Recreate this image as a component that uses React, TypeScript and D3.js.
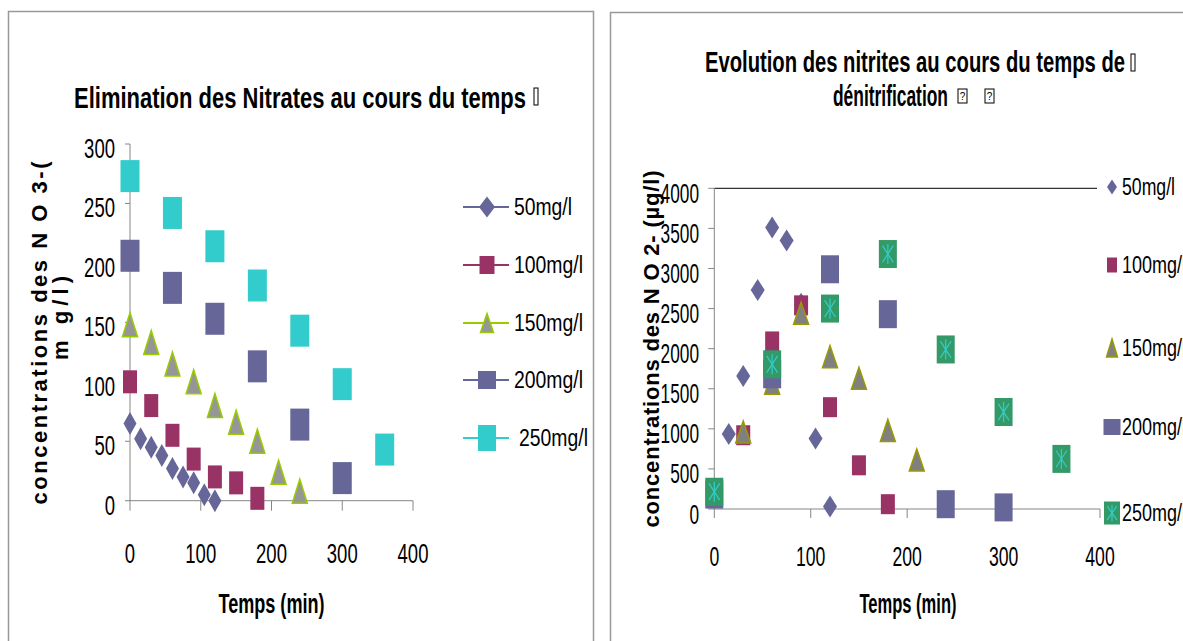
import React from "react";
import * as d3 from "d3";

// ---------- DATA ----------
const seriesNames = ["50mg/l", "100mg/l", "150mg/l", "200mg/l", "250mg/l"];

// Left chart: nitrates (mg/l) vs time (min)
const t50L = [0, 15, 30, 45, 60, 75, 90, 105, 120];
const v50L = [65, 52, 45, 38, 27, 20, 15, 5, 0];
const t100L = [0, 30, 60, 90, 120, 150, 180];
const v100L = [100, 80, 55, 35, 20, 15, 2];
const t150L = [0, 30, 60, 90, 120, 150, 180, 210, 240];
const v150L = [148, 133, 115, 100, 80, 66, 50, 24, 8];
const t200L = [0, 60, 120, 180, 240, 300];
const v200L = [206, 179, 153, 113, 64, 19];
const t250L = [0, 60, 120, 180, 240, 300, 360];
const v250L = [273, 242, 214, 181, 143, 98, 43];

// Right chart: nitrites (µg/l) vs time (min)
const t50R = [15, 30, 45, 60, 75, 90, 105, 120];
const v50R = [935, 1660, 2730, 3510, 3350, 2560, 880, 30];
const t100R = [30, 60, 90, 120, 150, 180];
const v100R = [920, 2090, 2540, 1270, 545, 60];
const t150R = [30, 60, 90, 120, 150, 180, 210];
const v150R = [960, 1570, 2440, 1900, 1630, 980, 610];
const t200R = [0, 60, 120, 180, 240, 300];
const v200R = [180, 1680, 2990, 2430, 60, 20];
const t250R = [0, 60, 120, 180, 240, 300, 360];
const v250R = [215, 1805, 2500, 3180, 1990, 1210, 625];

const xTicks = [0, 100, 200, 300, 400];
const yTicksL = [0, 50, 100, 150, 200, 250, 300];
const yTicksR = [0, 500, 1000, 1500, 2000, 2500, 3000, 3500, 4000];

const titleLeft = "Elimination des Nitrates au cours du temps";
const titleRight1 = "Evolution des nitrites au cours du temps de";
const titleRight2 = "dénitrification";
const yLabelL1 = "concentrations des N O 3-(";
const yLabelL2 = "m g/l)";
const yLabelR = "concentrations des N O 2- (µg/l)";
const xLabel = "Temps (min)";

// ---------- STYLE ----------
const FONT = "'Liberation Sans', Arial, sans-serif";
const AXIS = "#868686";
const C_PURPLE = "#666699";
const C_MAGENTA = "#993366";
const C_LIME = "#99CC00";
const C_GRAY = "#969696";
const C_CYAN = "#33CCCC";
const C_GREEN = "#339966";
const C_OLIVE = "#999900";

type TP = {
  x: number; y: number; w?: number; size?: number; anchor?: string;
  weight?: string | number; rotate?: boolean; children: React.ReactNode; fill?: string; adjust?: string;
};
function T({ x, y, w, size = 28, anchor = "start", weight = "normal", rotate, children, fill = "#000", adjust = "spacingAndGlyphs" }: TP) {
  return (
    <text
      x={x}
      y={y}
      fontFamily={FONT}
      fontSize={size}
      fontWeight={weight as any}
      textAnchor={anchor as any}
      fill={fill}
      textLength={w}
      lengthAdjust={w ? (adjust as any) : undefined}
      transform={rotate ? `rotate(-90 ${x} ${y})` : undefined}
    >
      {children}
    </text>
  );
}

const diamond = (cx: number, cy: number, w: number, h: number) =>
  `M${cx},${cy - h / 2}L${cx + w / 2},${cy}L${cx},${cy + h / 2}L${cx - w / 2},${cy}Z`;
const tri = (cx: number, cy: number, w: number, h: number) =>
  `M${cx},${cy - h / 2}L${cx + w / 2},${cy + h / 2}L${cx - w / 2},${cy + h / 2}Z`;

function Marker({ kind, cx, cy, w, h, tri: triStroke }: { kind: number; cx: number; cy: number; w: number; h: number; tri?: string }) {
  if (kind === 0) return <path d={diamond(cx, cy, w, h)} fill={C_PURPLE} />;
  if (kind === 1) return <rect x={cx - w / 2} y={cy - h / 2} width={w} height={h} fill={C_MAGENTA} />;
  if (kind === 2)
    return <path d={tri(cx, cy, w, h)} fill={triStroke === C_OLIVE ? "#808080" : C_GRAY} stroke={triStroke} strokeWidth={1.5} />;
  if (kind === 3) return <rect x={cx - w / 2} y={cy - h / 2} width={w} height={h} fill={C_PURPLE} />;
  return <rect x={cx - w / 2} y={cy - h / 2} width={w} height={h} fill={C_CYAN} />;
}

function StarBox({ cx, cy, w, h }: { cx: number; cy: number; w: number; h: number }) {
  const dx = w * 0.3, dy = h * 0.3;
  return (
    <g>
      <rect x={cx - w / 2} y={cy - h / 2} width={w} height={h} fill={C_GREEN} />
      <g stroke={C_CYAN} strokeWidth={1.2}>
        <line x1={cx - dx} y1={cy - dy} x2={cx + dx} y2={cy + dy} />
        <line x1={cx + dx} y1={cy - dy} x2={cx - dx} y2={cy + dy} />
        <line x1={cx} y1={cy - dy * 1.2} x2={cx} y2={cy + dy * 1.2} />
      </g>
    </g>
  );
}

export default function App() {
  // Left scales
  const xL = d3.scaleLinear().domain([0, 400]).range([130, 413]);
  const yL = d3.scaleLinear().domain([0, 300]).range([500.7, 144]);
  // Right scales
  const xR = d3.scaleLinear().domain([0, 400]).range([714.3, 1100]);
  const yR = d3.scaleLinear().domain([0, 4000]).range([509, 188.3]);

  const leftSeries = [
    { t: t50L, v: v50L, w: 13, h: 23 },
    { t: t100L, v: v100L, w: 14, h: 23 },
    { t: t150L, v: v150L, w: 15, h: 24 },
    { t: t200L, v: v200L, w: 19, h: 32 },
    { t: t250L, v: v250L, w: 19, h: 32 },
  ];
  const rightSeries = [
    { t: t50R, v: v50R, w: 14, h: 22 },
    { t: t100R, v: v100R, w: 14, h: 20 },
    { t: t150R, v: v150R, w: 15, h: 22 },
    { t: t200R, v: v200R, w: 18, h: 28 },
    { t: t250R, v: v250R, w: 18, h: 28 },
  ];

  const legendLY = [207, 265, 323, 380, 438];
  const legendLColors = [C_PURPLE, C_MAGENTA, C_LIME, C_PURPLE, C_CYAN];
  const legendLSizes = [
    [16, 21], [15, 18], [13, 19], [18, 18], [18, 26],
  ];
  const legendRY = [187, 265, 348, 427, 513];
  const legendRSizes = [
    [10, 15], [10, 15], [11, 18], [17, 16], [16, 23],
  ];

  const digitW = 10.3;

  return (
    <svg
      width={1183}
      height={641}
      style={{ position: "absolute", left: 0, top: 0, background: "#fff" }}
    >
      <rect x={0} y={0} width={1183} height={641} fill="#fff" />
      {/* Panel frames */}
      <rect x={8.5} y={11.5} width={585} height={700} fill="none" stroke="#999" strokeWidth={1.5} />
      <rect x={610.5} y={12.5} width={700} height={700} fill="none" stroke="#999" strokeWidth={1.5} />

      {/* ================= LEFT CHART ================= */}
      <T x={300} y={108} w={452} size={30} anchor="middle" weight="bold">{titleLeft}</T>
      <rect x={534} y={88} width={4} height={17} fill="none" stroke="#000" strokeWidth={1} />

      {/* axes */}
      <line x1={xL(0)} x2={xL(0)} y1={yL(300)} y2={yL(0)} stroke={AXIS} strokeWidth={1} />
      <line x1={xL(0)} x2={xL(400)} y1={yL(0)} y2={yL(0)} stroke={AXIS} strokeWidth={1} />
      {yTicksL.map((v) => (
        <g key={"yl" + v}>
          <line x1={xL(0) - 5} x2={xL(0)} y1={yL(v)} y2={yL(v)} stroke={AXIS} />
          <T x={115} y={yL(v) + 14} w={String(v).length * digitW} anchor="end">{v}</T>
        </g>
      ))}
      {xTicks.map((t) => (
        <g key={"xl" + t}>
          <line x1={xL(t)} x2={xL(t)} y1={yL(0)} y2={yL(0) + 10} stroke={AXIS} />
          <T x={xL(t)} y={562.5} w={String(t).length * digitW} anchor="middle">{t}</T>
        </g>
      ))}
      <T x={(xL(0) + xL(400)) / 2} y={613} w={106} size={27} anchor="middle" weight="bold">{xLabel}</T>
      <T x={47} y={333} w={343} size={22} anchor="middle" weight="bold" rotate adjust="spacing">{yLabelL1}</T>
      <T x={68} y={318} w={84} size={22} anchor="middle" weight="bold" rotate adjust="spacing">{yLabelL2}</T>

      {/* markers */}
      {leftSeries.map((s, si) => (
        <g key={"ls" + si}>
          {s.t.map((t, i) => (
            <Marker key={i} kind={si} cx={xL(t)} cy={yL(s.v[i])} w={s.w} h={s.h} tri={C_LIME} />
          ))}
        </g>
      ))}

      {/* legend left */}
      {seriesNames.map((n, i) => (
        <g key={"lgl" + n}>
          <line x1={463} x2={509} y1={legendLY[i]} y2={legendLY[i]} stroke={legendLColors[i]} strokeWidth={2} />
          <Marker kind={i} cx={487} cy={legendLY[i]} w={legendLSizes[i][0]} h={legendLSizes[i][1]} tri={C_LIME} />
          <T x={i === 4 ? 519 : 514} y={legendLY[i] + 8} w={n.length === 6 ? 58 : 69} size={23}>{n}</T>
        </g>
      ))}

      {/* ================= RIGHT CHART ================= */}
      <T x={915} y={72} w={420} size={30} anchor="middle" weight="bold">{titleRight1}</T>
      <rect x={1131} y={54} width={4} height={17} fill="none" stroke="#000" strokeWidth={1} />
      <T x={833} y={106} w={115} size={30} weight="bold">{titleRight2}</T>
      {[958, 985].map((bx) => (
        <g key={"qb" + bx}>
          <rect x={bx} y={89} width={9} height={14} fill="none" stroke="#000" strokeWidth={1} />
          <text x={bx + 4.5} y={100} fontFamily={FONT} fontSize={10} textAnchor="middle">?</text>
        </g>
      ))}

      {/* axes */}
      <line x1={xR(0)} x2={1097} y1={yR(4000)} y2={yR(4000)} stroke="#000" strokeWidth={1} />
      <line x1={xR(0)} x2={xR(0)} y1={yR(4000)} y2={yR(0)} stroke={AXIS} strokeWidth={1} />
      <line x1={xR(0)} x2={xR(400)} y1={yR(0)} y2={yR(0)} stroke={AXIS} strokeWidth={1} />
      {yTicksR.map((v) => (
        <g key={"yr" + v}>
          <line x1={xR(0) - 6} x2={xR(0)} y1={yR(v)} y2={yR(v)} stroke={AXIS} />
          <T x={699} y={yR(v) + 14.5} w={String(v).length * 9.6} anchor="end">{v}</T>
        </g>
      ))}
      {xTicks.map((t) => (
        <g key={"xr" + t}>
          <line x1={xR(t)} x2={xR(t)} y1={yR(0)} y2={yR(0) + 9} stroke={AXIS} />
          <T x={xR(t)} y={565.5} w={String(t).length * 9.8} anchor="middle">{t}</T>
        </g>
      ))}
      <T x={908} y={613} w={97} size={27} anchor="middle" weight="bold">{xLabel}</T>
      <T x={659} y={349} w={357} size={22} anchor="middle" weight="bold" rotate adjust="spacing">{yLabelR}</T>

      {/* markers */}
      {rightSeries.map((s, si) => (
        <g key={"rs" + si}>
          {s.t.map((t, i) =>
            si === 4 ? (
              <StarBox key={i} cx={xR(t)} cy={yR(s.v[i])} w={s.w} h={s.h} />
            ) : (
              <Marker key={i} kind={si} cx={xR(t)} cy={yR(s.v[i])} w={s.w} h={s.h} tri={C_OLIVE} />
            )
          )}
        </g>
      ))}

      {/* legend right */}
      {seriesNames.map((n, i) => (
        <g key={"lgr" + n}>
          {i === 4 ? (
            <StarBox cx={1112} cy={legendRY[i]} w={legendRSizes[i][0]} h={legendRSizes[i][1]} />
          ) : (
            <Marker kind={i} cx={1112} cy={legendRY[i]} w={legendRSizes[i][0]} h={legendRSizes[i][1]} tri={C_OLIVE} />
          )}
          <T x={1122} y={legendRY[i] + 8} w={n.length === 6 ? 53 : 64} size={23}>{n}</T>
        </g>
      ))}
    </svg>
  );
}
